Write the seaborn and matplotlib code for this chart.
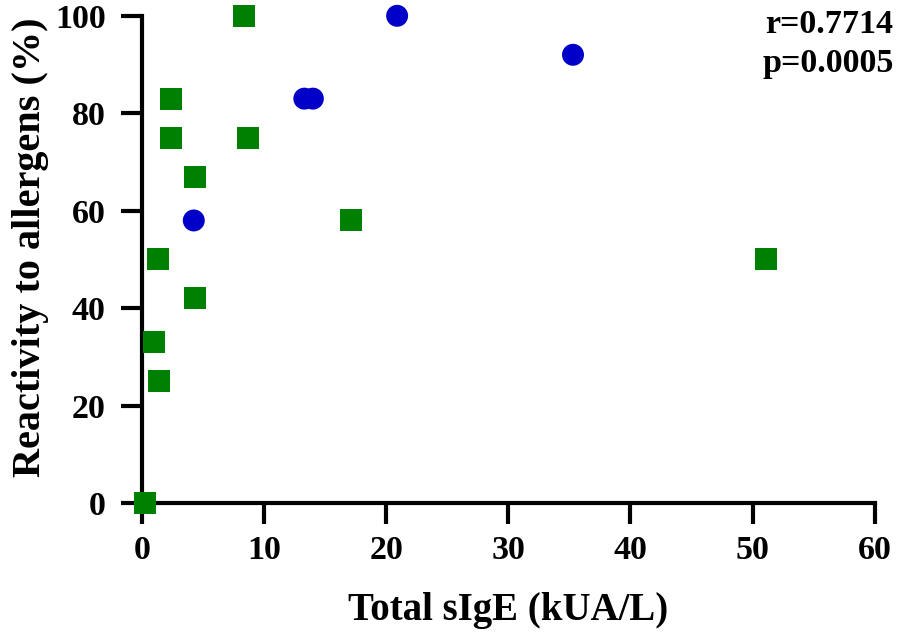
import matplotlib
matplotlib.use("Agg")
import matplotlib.pyplot as plt
import pandas as pd
import seaborn as sns

# green squares
sq_x = [8.36, 2.38, 2.41, 8.71, 4.36, 17.1, 1.29, 4.36, 0.96, 1.40, 0.22, 51.1]
sq_y = [100, 83, 75, 75, 67, 58, 50, 42, 33, 25, 0, 50]
# blue circles
ci_x = [20.9, 13.3, 14.0, 4.25, 35.3]
ci_y = [100, 83, 83, 58, 92]

df = pd.DataFrame({
    "sige": sq_x + ci_x,
    "react": sq_y + ci_y,
    "group": ["sq"] * len(sq_x) + ["ci"] * len(ci_x),
})

sns.set_theme(style="ticks")
plt.rcParams["font.family"] = ["Liberation Serif", "DejaVu Serif"]
plt.rcParams["font.weight"] = "bold"
for key in ["text.color", "axes.labelcolor", "xtick.color", "ytick.color", "axes.edgecolor"]:
    plt.rcParams[key] = "black"

fig = plt.figure(figsize=(8.98, 6.32), dpi=100)
ax = fig.add_axes([0.158, 0.204, 0.816, 0.771])

sns.scatterplot(
    data=df, x="sige", y="react", hue="group", style="group",
    palette={"sq": "#008000", "ci": "#0000c8"},
    markers={"sq": "s", "ci": "o"},
    s=250, linewidth=0, legend=False, clip_on=False, zorder=3, ax=ax,
)

ax.set_xlim(0, 60)
ax.set_ylim(0, 100)
ax.set_xticks(range(0, 61, 10))
ax.set_yticks(range(0, 101, 20))
for side in ["top", "right"]:
    ax.spines[side].set_visible(False)
for side in ["left", "bottom"]:
    ax.spines[side].set_linewidth(3)
ax.tick_params(axis="both", length=15, width=3, labelsize=24.5, pad=8)
ax.tick_params(axis="y", pad=11)
for lab in ax.get_xticklabels() + ax.get_yticklabels():
    lab.set_fontweight("bold")

ax.set_xlabel("Total sIgE (kUA/L)", fontsize=28, fontweight="bold", labelpad=19)
ax.set_ylabel("Reactivity to allergens (%)", fontsize=29, fontweight="bold")
ax.yaxis.set_label_coords(-0.127, 0.526)

fig.text(0.995, 0.985, "r=0.7714\np=0.0005", ha="right", va="top",
         fontsize=24.5, fontweight="bold", linespacing=1.3)

fig.savefig("out.png", dpi=100)
